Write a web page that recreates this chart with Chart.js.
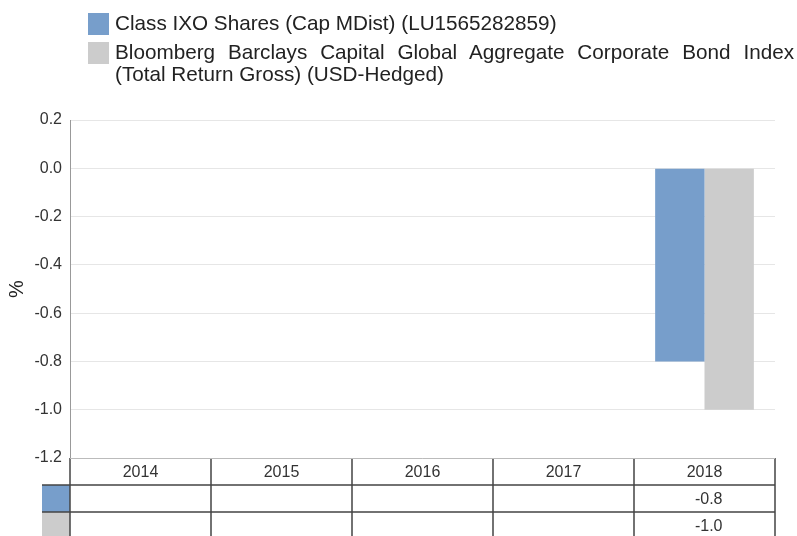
<!doctype html>
<html lang="en">
<head>
    <meta charset="utf-8">
    <title>Calendar Year Performance</title>
    <script src="https://cdn.jsdelivr.net/npm/chart.js"></script>
    <style>
        html, body { margin: 0; padding: 0; background: #fff; }
        body { width: 797px; height: 536px; position: relative; overflow: hidden; font-family: "Liberation Sans", Arial, sans-serif; }
        #wrap { position: absolute; left: 0; top: 0; width: 797px; height: 536px; }
        .legend { position: absolute; left: 88px; top: 12px; width: 706px; color: #222; font-size: 20.7px; line-height: 22px; }
        .legend .item { position: relative; padding-left: 27px; margin-bottom: 7px; text-align: justify; text-align-last: left; }
        .legend .sw { position: absolute; left: 0; top: 1px; width: 21px; height: 22px; }
    </style>
</head>
<body>
    <div id="wrap"><canvas id="perfChart" width="797" height="536"></canvas></div>
    <div class="legend" id="legend"></div>

    <script>
        // data
        const years = ['2014', '2015', '2016', '2017', '2018'];
        const fundValues = [null, null, null, null, -0.8];
        const indexValues = [null, null, null, null, -1.0];
        const seriesNames = [
            'Class IXO Shares (Cap MDist) (LU1565282859)',
            'Bloomberg Barclays Capital Global Aggregate Corporate Bond Index (Total Return Gross) (USD-Hedged)'
        ];
        const seriesColors = ['#779ecb', '#cccccc'];

        const FONT = '"Liberation Sans", Arial, sans-serif';

        // html legend
        const legendEl = document.getElementById('legend');
        seriesNames.forEach((name, i) => {
            legendEl.insertAdjacentHTML('beforeend',
                `<div class="item"><span class="sw" style="background:${seriesColors[i]}"></span>${name}</div>`);
        });

        // data table under the plot
        const tablePlugin = {
            id: 'dataTable',
            afterDraw(chart) {
                const ctx = chart.ctx;
                const area = chart.chartArea;
                const xs = chart.scales.x;
                const rowH = 27;
                const top = area.bottom;
                const rows = [fundValues, indexValues];
                const edges = [];
                const half = (xs.getPixelForValue(1) - xs.getPixelForValue(0)) / 2;
                for (let i = 0; i < years.length; i++) {
                    const c = xs.getPixelForValue(i);
                    if (i === 0) edges.push(c - half);
                    edges.push(c + half);
                }
                ctx.save();
                ctx.font = '16px ' + FONT;
                ctx.fillStyle = '#333';
                ctx.textBaseline = 'middle';

                // header labels
                ctx.textAlign = 'center';
                years.forEach((y, i) => {
                    ctx.fillText(y, (edges[i] + edges[i + 1]) / 2, top + rowH / 2 + 1);
                });

                // swatches
                rows.forEach((r, ri) => {
                    ctx.fillStyle = seriesColors[ri];
                    ctx.fillRect(edges[0] - 28, top + rowH * (ri + 1), 28, rowH);
                });

                // values
                ctx.fillStyle = '#333';
                ctx.textAlign = 'right';
                rows.forEach((r, ri) => {
                    r.forEach((v, i) => {
                        if (v === null) return;
                        const cx = (edges[i] + edges[i + 1]) / 2;
                        ctx.fillText(v.toFixed(1), cx + 18, top + rowH * (ri + 1) + rowH / 2 + 1);
                    });
                });

                // lines
                ctx.lineWidth = 1.5;
                ctx.strokeStyle = '#444';
                ctx.beginPath();
                edges.forEach((x) => {
                    ctx.moveTo(x, top);
                    ctx.lineTo(x, top + rowH * 3 + 5);
                });
                for (let k = 1; k <= 2; k++) {
                    ctx.moveTo(edges[0] - 28, top + rowH * k);
                    ctx.lineTo(edges[edges.length - 1], top + rowH * k);
                }
                ctx.stroke();
                ctx.strokeStyle = '#bbb';
                ctx.lineWidth = 1;
                ctx.beginPath();
                ctx.moveTo(edges[0], top + 0.5);
                ctx.lineTo(edges[edges.length - 1], top + 0.5);
                ctx.stroke();
                ctx.restore();
            }
        };

        const ctx = document.getElementById('perfChart').getContext('2d');
        new Chart(ctx, {
            type: 'bar',
            data: {
                labels: years,
                datasets: [{
                    label: seriesNames[0],
                    data: fundValues,
                    backgroundColor: seriesColors[0]
                }, {
                    label: seriesNames[1],
                    data: indexValues,
                    backgroundColor: seriesColors[1]
                }]
            },
            options: {
                responsive: false,
                animation: false,
                layout: { padding: { top: 120, bottom: 78, right: 22, left: 0 } },
                datasets: { bar: { categoryPercentage: 0.7, barPercentage: 1.0 } },
                scales: {
                    x: { display: false },
                    y: {
                        min: -1.2,
                        max: 0.2,
                        afterFit: (scale) => { scale.width = 70; },
                        ticks: {
                            stepSize: 0.2,
                            padding: 8,
                            color: '#333',
                            font: { family: FONT, size: 16 },
                            callback: (v) => v.toFixed(1)
                        },
                        grid: { color: '#e6e6e6', drawTicks: false },
                        border: { color: '#999' },
                        title: {
                            display: true,
                            text: '%',
                            color: '#222',
                            font: { family: FONT, size: 20 },
                            padding: { top: 5, bottom: 0 }
                        }
                    }
                },
                plugins: {
                    legend: { display: false },
                    tooltip: { enabled: false }
                }
            },
            plugins: [tablePlugin]
        });
    </script>
</body>
</html>
